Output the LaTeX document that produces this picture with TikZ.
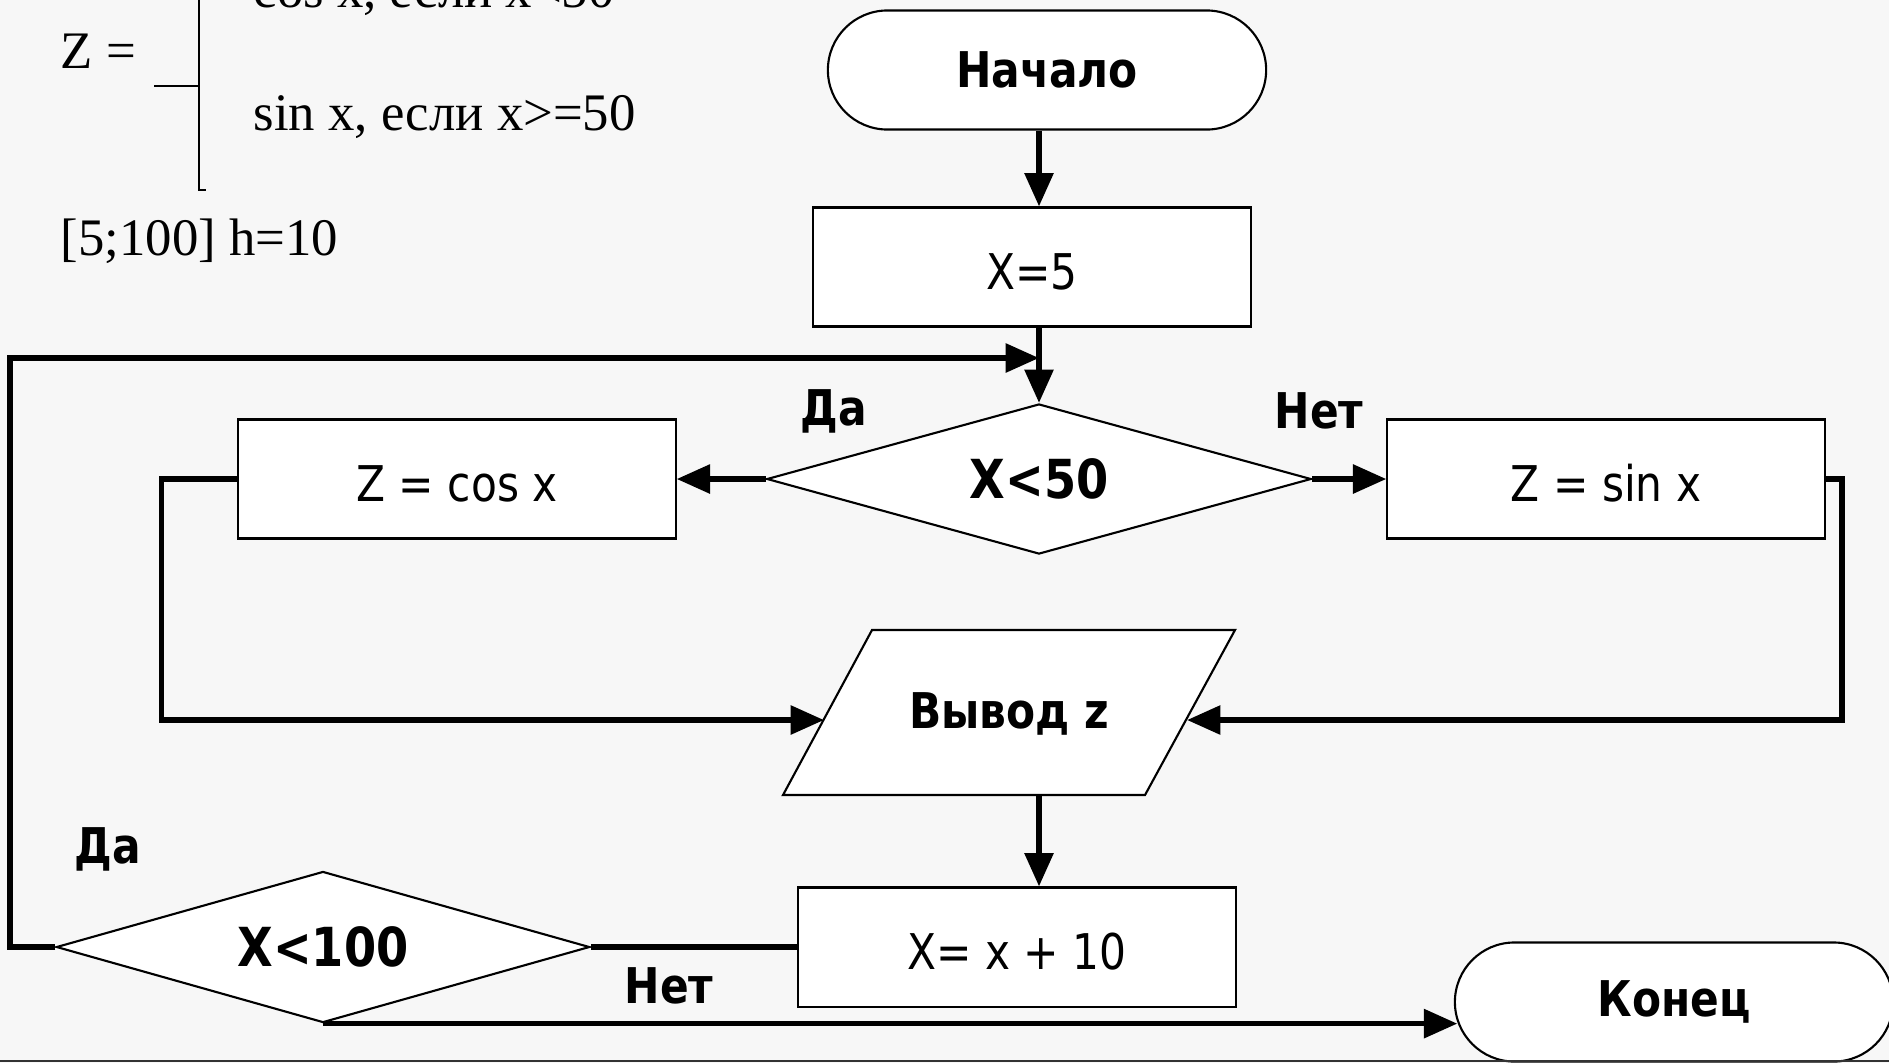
\documentclass[tikz,border=0pt]{standalone}
\usepackage{fontspec}
\setmainfont{Liberation Serif}
\newfontfamily\fcf{DejaVu Sans}[FakeStretch=0.86]
\usetikzlibrary{shapes.geometric,shapes.misc,arrows.meta}
\begin{document}
\begin{tikzpicture}[x=0.01cm,y=-0.01cm,
  conn/.style={line width=1.6pt, -{Triangle[length=9.5pt,width=8pt]}},
  plain/.style={line width=1.6pt},
  box/.style={draw, line width=0.6pt, fill=white, minimum width=4.37cm, minimum height=1.19cm, inner sep=0pt, text height=13pt, text depth=0pt, font=\fcf\fontsize{14}{16}\selectfont},
  term/.style={draw, line width=0.6pt, fill=white, rounded rectangle, minimum width=4.38cm, minimum height=1.19cm, inner sep=0pt, font=\fcf\bfseries\fontsize{14}{16}\selectfont},
  dec/.style={draw, line width=0.6pt, fill=white, diamond, aspect=3.6, inner sep=0pt, font=\fcf\bfseries\fontsize{15.3}{17}\selectfont},
  lbl/.style={font=\fcf\bfseries\fontsize{14}{16}\selectfont, inner sep=0pt},
  ser/.style={font=\fontsize{15}{17}\selectfont, anchor=base west, inner sep=0pt}
]
\useasboundingbox (0,0) rectangle (1889,1063);
\clip (0,0) rectangle (1889,1063);
\fill[black!3] (0,0) rectangle (1889,1063);

% formula text
\node[ser] (cosl) at (253,7) {cos x, если x<50};
\node[ser] (zeq) at (60,68) {Z =};
\node[ser] (sinl) at (253,130) {sin x, если x>=50};
\node[ser] (rng) at (60,255) {[5;100] h=10};
\draw[line width=0.5pt] (199,0) -- (199,190) -- (206,190);
\draw[line width=0.5pt] (154,86) -- (199,86);

% output parallelogram outline
\coordinate (outTL) at (872,630);
\coordinate (outTR) at (1235,630);
\coordinate (outBR) at (1145,795);
\coordinate (outBL) at (783,795);
\coordinate (outL) at (824,720);
\coordinate (outR) at (1187,720);
\draw[line width=0.6pt, fill=white] (outTL) -- (outTR) -- (outBR) -- (outBL) -- cycle;

% nodes
\node[term] (start) at (1047,70) {Начало};
\node[box] (x5) at (1032,267) {X=5};
\node[dec, minimum width=5.44cm, minimum height=1.5cm] (d1) at (1039,479) {X<50};
\node[box] (cos) at (457,479) {Z = cos x};
\node[box] (sin) at (1606,479) {Z = sin x};
\node[inner sep=0pt, font=\fcf\bfseries\fontsize{14}{16}\selectfont] (out) at (1009,714) {Вывод z};
\node[box] (inc) at (1017,947) {X= x + 10};
\node[dec, minimum width=5.33cm, minimum height=1.51cm] (d2) at (323,947) {X<100};
\node[term] (end) at (1674,1002) {Конец};

\coordinate (join) at (1039,358);
\coordinate (outB) at (1039,795);

% labels
\node[lbl] (da1) at (834,411) {Да};
\node[lbl] (net1) at (1319,411) {Нет};
\node[lbl] (da2) at (108,849) {Да};
\node[lbl] (net2) at (669,986) {Нет};

% connectors
\draw[conn] (d1.north |- start.south) -- (d1.north |- x5.north);
\draw[conn] (d1.north |- x5.south) -- (d1.north);
\draw[conn] (d1.west) -- (cos.east);
\draw[conn] (d1.east) -- (sin.west);
\draw[conn] (cos.west) -- ++(-76,0) |- (outL);
\draw[conn] (sin.east) -- ++(16,0) |- (outR);
\draw[conn] (outB) -- (outB |- inc.north);
\draw[plain] (inc.west) -- (d2.east);
\draw[conn] (d2.west) -- ++(-45,0) |- (join);
\draw[conn] (d2.south) -- ([xshift=0.035cm]end.west |- d2.south);

\draw[line width=0.7pt, black!80] (0,1061) -- (1889,1061);
\end{tikzpicture}
\end{document}
